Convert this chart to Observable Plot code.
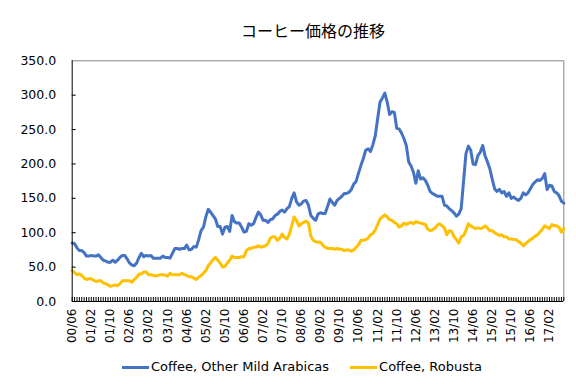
<!DOCTYPE html>
<html><head><meta charset="utf-8">
<script src="https://cdn.jsdelivr.net/npm/d3@7"></script>
<script src="https://cdn.jsdelivr.net/npm/@observablehq/plot@0.6"></script>
<style>
body{margin:0;background:#fff;}
#wrap{position:relative;width:576px;height:384px;font-family:"DejaVu Sans",Verdana,sans-serif;color:#000;}
#title{position:absolute;top:21px;left:163px;width:300px;text-align:center;font-family:"Noto Sans CJK JP",sans-serif;font-size:16px;line-height:18px;}
#legend{position:absolute;top:359px;left:122px;display:flex;align-items:center;font-size:13px;line-height:16px;}
.sw{display:inline-block;width:27px;height:3px;margin-right:2px;}
#chart{position:absolute;top:0;left:0;}
</style></head>
<body><div id="wrap">
<div id="chart"></div>
<div id="title">コーヒー価格の推移</div>
<div id="legend"></div>
</div>
<script>
const seriesNames = ["Coffee, Other Mild Arabicas", "Coffee, Robusta"];
const seriesColors = ["#4472C4", "#FFC000"];
const tickLabels = ["00/06","01/02","01/10","02/06","03/02","03/10","04/06","05/02","05/10","06/06","07/02","07/10","08/06","09/02","09/10","10/06","11/02","11/10","12/06","13/02","13/10","14/06","15/02","15/10","16/06","17/02"];
const labelStep = 8;
const yTicks = [0,50,100,150,200,250,300,350];
const arabica = [
85,84,78,74,74,71,66,66,67,66,
66,68,64,60,59,57,57,60,57,60,
64,67,67,62,56,53,52,56,64,70,
65,67,66,67,63,63,63,63,66,64,
64,63,70,77,77,76,77,77,82,75,
76,80,79,90,103,108,123,134,130,125,
120,109,109,98,108,109,102,125,116,114,
114,108,101,102,113,111,113,122,130,126,
118,118,115,119,120,125,127,131,133,130,
135,138,150,158,145,140,142,146,147,140,
125,121,118,127,129,128,128,138,149,144,
140,147,150,153,157,157,159,163,171,175,
187,198,208,220,222,218,228,241,266,290,
296,303,290,272,276,275,252,251,245,237,
227,203,197,188,172,190,178,180,176,169,
160,157,155,153,153,153,140,139,135,132,
129,124,127,135,175,215,226,220,200,199,
212,217,227,212,203,193,178,164,160,163,
158,160,153,158,150,152,149,147,150,158,
155,158,164,170,174,177,176,179,186,163,
169,168,160,158,154,146,143];
const robusta = [
45,42,39,40,38,34,32,33,33,31,
29,30,30,27,26,24,22,23,24,23,
26,30,30,30,30,28,32,35,40,40,
43,43,39,39,38,37,38,39,39,38,
37,41,39,39,39,39,41,39,38,36,
36,34,32,35,38,41,45,52,56,61,
64,60,56,50,51,56,60,66,64,64,
64,65,65,74,77,77,79,79,81,79,
80,81,84,92,94,94,89,92,98,93,
91,98,110,123,118,110,113,115,117,114,
95,89,87,86,86,82,79,77,77,77,
76,77,76,76,74,75,75,73,75,79,
83,89,89,90,92,97,99,104,112,120,
123,126,123,119,118,115,113,108,110,114,
112,114,115,113,116,115,114,113,112,105,
103,104,107,111,113,110,107,97,103,102,
94,90,85,94,96,103,113,110,108,106,
107,106,107,110,107,103,103,100,98,96,
97,94,94,91,91,90,90,87,85,81,
84,87,90,92,95,97,101,105,110,108,
106,112,110,110,108,101,106];

const N = arabica.length;
const idx = d3.range(N);
const labelIdx = tickLabels.map((_, k) => k * labelStep);
const W = 576, H = 384, mL = 71.7, mR = 12.7, mT = 60.3, mB = 83;
const plotW = W - mL - mR, plotH = H - mT - mB;
const tickLen = 4;

const chart = Plot.plot({
  width: W, height: H,
  marginLeft: mL, marginRight: mR, marginTop: mT, marginBottom: mB,
  style: {fontFamily: '"DejaVu Sans", Verdana, sans-serif', color: "#000", background: "transparent"},
  x: {type: "linear", domain: [0, N - 1]},
  y: {domain: [0, 350]},
  marks: [
    Plot.ruleY([350], {stroke: "#868686", strokeWidth: 1}),
    Plot.ruleX([N - 1], {stroke: "#868686", strokeWidth: 1}),
    Plot.ruleX(idx, {x: d => d, stroke: "#000", strokeWidth: 1, insetTop: plotH - tickLen}),
    Plot.ruleY(yTicks.filter(v => v > 0 && v < 350), {y: d => d, stroke: "#000", strokeWidth: 1, insetRight: plotW - tickLen}),
    Plot.line(arabica, {x: (d, i) => i, y: d => d, stroke: seriesColors[0], strokeWidth: 3, strokeLinejoin: "round", strokeLinecap: "round"}),
    Plot.line(robusta, {x: (d, i) => i, y: d => d, stroke: seriesColors[1], strokeWidth: 3, strokeLinejoin: "round", strokeLinecap: "round"}),
    Plot.ruleX([0], {stroke: "#000", strokeWidth: 1}),
    Plot.ruleY([0], {stroke: "#000", strokeWidth: 1}),
    Plot.axisX(labelIdx, {tickFormat: (d) => tickLabels[d / labelStep], tickRotate: -90, tickSize: 0, tickPadding: 7, fontSize: 12, label: null}),
    Plot.axisY(yTicks, {tickFormat: d3.format(".1f"), tickSize: 0, tickPadding: 16, fontSize: 12.5, label: null})
  ]
});
document.getElementById("chart").appendChild(chart);

const legend = document.getElementById("legend");
seriesNames.forEach((name, k) => {
  const item = document.createElement("span");
  item.style.display = "inline-flex";
  item.style.alignItems = "center";
  item.style.marginRight = k === 0 ? "21px" : "0";
  const sw = document.createElement("span");
  sw.className = "sw";
  sw.style.background = seriesColors[k];
  item.appendChild(sw);
  item.appendChild(document.createTextNode(name));
  legend.appendChild(item);
});
</script>
</body></html>
